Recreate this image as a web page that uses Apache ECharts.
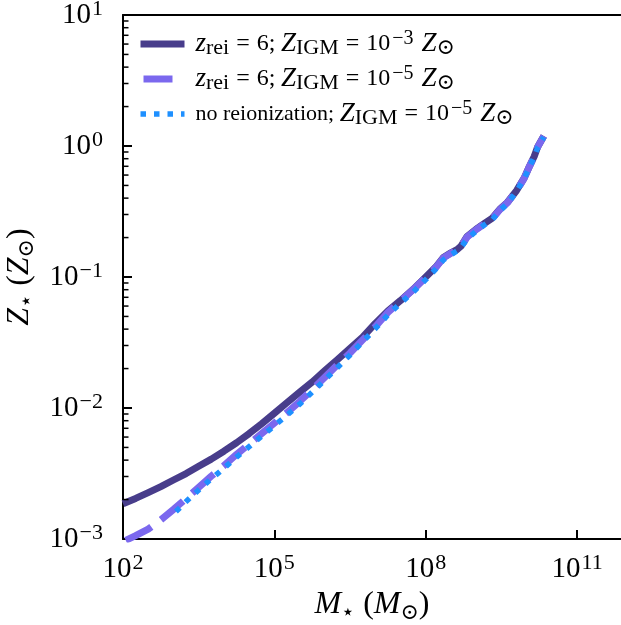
<!DOCTYPE html>
<html>
<head>
<meta charset="utf-8">
<script src="https://cdn.jsdelivr.net/npm/echarts@6/dist/echarts.min.js"></script>
<style>
html,body{margin:0;padding:0;background:#fff;}
#chart{width:621px;height:625px;}
</style>
</head>
<body>
<div id="chart"></div>
<script>
// ---------- data ----------
const seriesNames = [
  'z_rei = 6; Z_IGM = 1e-3 Zsun',
  'z_rei = 6; Z_IGM = 1e-5 Zsun',
  'no reionization; Z_IGM = 1e-5 Zsun'
];
const legendLabels = [
  '{i|z}{sub|rei}{eq|=}{n|6;}{t| }{i|Z}{sub|IGM}{eq|=}{n|10}{sup|\u22123}{i|Z}{sub|\u2299}',
  '{i|z}{sub|rei}{eq|=}{n|6;}{t| }{i|Z}{sub|IGM}{eq|=}{n|10}{sup|\u22125}{i|Z}{sub|\u2299}',
  '{t|no reionization; }{i|Z}{sub|IGM}{eq|=}{n|10}{sup|\u22125}{i|Z}{sub|\u2299}'
];
const xTickExponents = [2, 5, 8, 11];
const yTickExponents = [-3, -2, -1, 0, 1];

const massSolid = [1.00e2,1.78e2,3.16e2,5.62e2,1.00e3,1.78e3,3.16e3,5.62e3,1.00e4,1.78e4,3.16e4,5.62e4,
  1.00e5,1.78e5,3.16e5,5.62e5,1.00e6,1.78e6,3.16e6,5.62e6,1.00e7,1.78e7,3.16e7,5.62e7,1.00e8,
  1.58e8,2.24e8,3.16e8,4.17e8,5.01e8,6.61e8,1.00e9,1.41e9,2.09e9,3.02e9,4.17e9,6.31e9,8.91e9,
  1.12e10,1.41e10,1.66e10,2.19e10];
const zSolid = [1.86e-3,2.04e-3,2.26e-3,2.51e-3,2.82e-3,3.16e-3,3.59e-3,4.07e-3,4.68e-3,5.43e-3,6.38e-3,7.59e-3,
  9.12e-3,1.10e-2,1.32e-2,1.58e-2,1.93e-2,2.34e-2,2.85e-2,3.47e-2,4.42e-2,5.50e-2,6.61e-2,8.04e-2,0.100,
  0.119,0.141,0.153,0.162,0.172,0.204,0.232,0.254,0.282,0.333,0.372,0.457,0.569,
  0.692,0.832,0.989,1.19];

const massDashed = [1.00e2,1.78e2,3.16e2,5.62e2,1.00e3,1.78e3,3.16e3,5.62e3,1.00e4,1.78e4,3.16e4,5.62e4,
  1.00e5,1.78e5,3.16e5,5.62e5,1.00e6,1.78e6,3.16e6,5.62e6,1.00e7,1.78e7,3.16e7,5.62e7,1.00e8,
  1.58e8,2.24e8,3.16e8,4.17e8,5.01e8,6.61e8,1.00e9,1.41e9,2.09e9,3.02e9,4.17e9,6.31e9,8.91e9,
  1.12e10,1.41e10,1.66e10,2.19e10];
const zDashed = [9.55e-4,1.06e-3,1.19e-3,1.40e-3,1.68e-3,2.04e-3,2.48e-3,3.02e-3,3.63e-3,4.42e-3,5.31e-3,6.38e-3,
  7.67e-3,9.23e-3,1.12e-2,1.38e-2,1.72e-2,2.14e-2,2.63e-2,3.31e-2,4.17e-2,5.37e-2,6.55e-2,8.00e-2,0.0995,
  0.118,0.140,0.152,0.161,0.171,0.202,0.230,0.252,0.280,0.330,0.370,0.455,0.566,
  0.690,0.830,0.985,1.19];

const massDotted = [1.12e3,1.78e3,3.16e3,5.62e3,1.00e4,1.78e4,3.16e4,5.62e4,
  1.00e5,1.78e5,3.16e5,5.62e5,1.00e6,1.78e6,3.16e6,5.62e6,1.00e7,1.78e7,3.16e7,5.62e7,1.00e8,
  1.58e8,2.24e8,3.16e8,4.17e8,5.01e8,6.61e8,1.00e9,1.41e9,2.09e9,3.02e9,4.17e9,6.31e9,8.91e9,
  1.12e10,1.41e10,1.66e10,2.19e10];
const zDotted = [1.62e-3,1.93e-3,2.37e-3,2.88e-3,3.47e-3,4.22e-3,5.07e-3,6.10e-3,
  7.33e-3,8.81e-3,1.07e-2,1.32e-2,1.64e-2,2.04e-2,2.54e-2,3.20e-2,4.03e-2,5.13e-2,6.31e-2,7.67e-2,9.55e-2,
  0.115,0.135,0.148,0.158,0.168,0.195,0.224,0.248,0.275,0.324,0.363,0.452,0.562,
  0.684,0.822,0.977,1.17];

// ---------- helpers ----------
function pairs(xs, ys) { return xs.map((x, i) => [x, ys[i]]); }
const FONT = "'Liberation Serif', 'DejaVu Serif', serif";
// axis ranges (the right part of the axes runs to the edge of the figure)
const X_MIN_EXP = 2, X_MAX_EXP = 11.87;
const X_MIN = Math.pow(10, X_MIN_EXP), X_MAX = Math.pow(10, X_MAX_EXP);
const Y_MIN = 1e-3, Y_MAX = 10;
// y minor tick values (2..9 x 10^n), drawn as tick marks at the left spine
const yMinorTickValues = [];
for (let e = yTickExponents[0]; e < yTickExponents[yTickExponents.length - 1]; e++) {
  for (let k = 2; k <= 9; k++) yMinorTickValues.push(k * Math.pow(10, e));
}
const tickRich = {
  b: { fontFamily: FONT, fontSize: 29, lineHeight: 34, color: '#000' },
  s: { fontFamily: FONT, fontSize: 22, lineHeight: 18, verticalAlign: 'top', color: '#000', padding: [0, 0, 0, 1] }
};
const nameRich = {
  i: { fontFamily: FONT, fontSize: 32, fontStyle: 'italic', lineHeight: 38, color: '#000' },
  t: { fontFamily: FONT, fontSize: 32, lineHeight: 38, color: '#000' },
  sub: { fontFamily: FONT, fontSize: 22, lineHeight: 22, verticalAlign: 'bottom', color: '#000' }
};
function expLabel(e) {
  const s = e < 0 ? '\u2212' + Math.abs(e) : String(e);
  return '{b|10}{s|' + s + '}';
}
const AX = { color: '#000', width: 2 };

const chart = echarts.init(document.getElementById('chart'), null, { renderer: 'canvas' });
chart.setOption({
  animation: false,
  backgroundColor: '#fff',
  grid: {
    left: 123, top: 15, width: 498, height: 524,
    show: false, outerBoundsMode: 'none', containLabel: false
  },
  legend: {
    orient: 'vertical', left: 137, top: 29, padding: 0,
    itemWidth: 44, itemHeight: 14, itemGap: 5, align: 'left',
    data: seriesNames,
    lineStyle: { width: 'inherit' },
    itemStyle: { opacity: 0, borderWidth: 0 },
    formatter: function (name) { return legendLabels[seriesNames.indexOf(name)]; },
    textStyle: {
      padding: [0, 0, 0, 6],
      rich: {
        t: { fontFamily: FONT, fontSize: 22, lineHeight: 30, color: '#000' },
        n: { fontFamily: FONT, fontSize: 24, lineHeight: 30, color: '#000' },
        eq: { fontFamily: FONT, fontSize: 24, lineHeight: 30, color: '#000', padding: [0, 7, 0, 7] },
        i: { fontFamily: FONT, fontSize: 27, fontStyle: 'italic', lineHeight: 30, color: '#000' },
        sub: { fontFamily: FONT, fontSize: 22, lineHeight: 18, verticalAlign: 'bottom', color: '#000' },
        sup: { fontFamily: FONT, fontSize: 20, lineHeight: 17, verticalAlign: 'top', color: '#000', padding: [0, 8, 0, 2] }
      }
    }
  },
  xAxis: [
    { type: 'log', logBase: 10, min: X_MIN, max: X_MAX, gridIndex: 0, show: false },
    {
      type: 'value', min: X_MIN_EXP, max: X_MAX_EXP, gridIndex: 0, position: 'bottom',
      axisLine: { show: true, lineStyle: AX }, splitLine: { show: false },
      axisTick: { show: true, inside: true, length: 9, customValues: xTickExponents, lineStyle: AX },
      axisLabel: { show: true, margin: 13, customValues: xTickExponents,
        formatter: function (v) { return expLabel(Math.round(v)); }, rich: tickRich },
      name: '{i|M}{sub|\u22c6}{t| (}{i|M}{sub|\u2299}{t|)}',
      nameLocation: 'middle', nameGap: 47,
      nameTextStyle: { rich: nameRich, padding: [0, 0, 0, 0] }
    },
    {
      type: 'value', min: X_MIN_EXP, max: X_MAX_EXP, gridIndex: 0, position: 'top',
      axisLine: { show: true, lineStyle: AX }, splitLine: { show: false },
      axisTick: { show: false }, axisLabel: { show: false }
    }
  ],
  yAxis: [
    {
      type: 'log', logBase: 10, min: Y_MIN, max: Y_MAX, interval: 1, gridIndex: 0, position: 'left',
      axisLine: { show: true, lineStyle: AX }, splitLine: { show: false },
      minorTick: { show: false },
      axisTick: { show: true, inside: true, length: 9, lineStyle: AX },
      axisLabel: { show: true, margin: 20,
        formatter: function (v) { return expLabel(Math.round(Math.log10(v))); }, rich: tickRich },
      name: '{i|Z}{sub|\u22c6}{t| (}{i|Z}{sub|\u2299}{t|)}',
      nameLocation: 'middle', nameRotate: 90, nameGap: 83,
      nameTextStyle: { rich: nameRich }
    }
  ],
  series: [
    {
      name: seriesNames[0], type: 'line', xAxisIndex: 0, yAxisIndex: 0,
      data: pairs(massSolid, zSolid), showSymbol: false, symbol: 'none', smooth: false,
      lineStyle: { color: '#483D8B', width: 7, type: 'solid', cap: 'butt', join: 'round' },
      itemStyle: { color: '#483D8B' }
    },
    {
      name: seriesNames[1], type: 'line', xAxisIndex: 0, yAxisIndex: 0,
      data: pairs(massDashed, zDashed), showSymbol: false, symbol: 'none',
      lineStyle: { color: '#7B68EE', width: 7, type: [29, 12], dashOffset: 38, cap: 'butt', join: 'round' },
      itemStyle: { color: '#7B68EE' }
    },
    {
      name: seriesNames[2], type: 'line', xAxisIndex: 0, yAxisIndex: 0,
      data: pairs(massDotted, zDotted), showSymbol: false, symbol: 'none',
      lineStyle: { color: '#1E90FF', width: 5.5, type: [5.5, 8], dashOffset: 0, cap: 'butt', join: 'round' },
      itemStyle: { color: '#1E90FF' }
    },
    {
      name: 'minor ticks', type: 'custom', xAxisIndex: 0, yAxisIndex: 0,
      silent: true, clip: false, z: 5,
      data: yMinorTickValues.map(function (v) { return [X_MIN, v]; }),
      renderItem: function (params, api) {
        const p = api.coord([api.value(0), api.value(1)]);
        return {
          type: 'line',
          shape: { x1: p[0], y1: p[1], x2: p[0] + 5.5, y2: p[1] },
          style: { stroke: '#000', lineWidth: 1.5 }
        };
      }
    }
  ]
});
</script>
</body>
</html>
